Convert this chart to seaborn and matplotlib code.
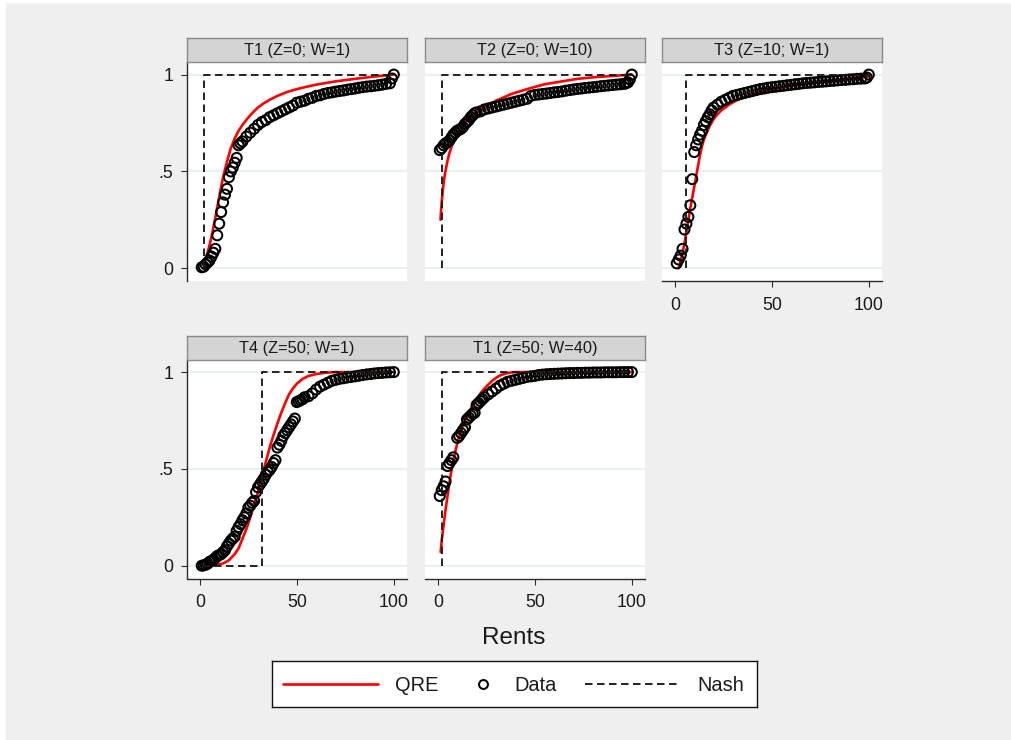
import matplotlib
matplotlib.use("Agg")
import matplotlib.pyplot as plt
import seaborn as sns
from matplotlib.patches import Rectangle

# ---------------------------------------------------------------
# Panel titles
titles = ["T1 (Z=0; W=1)", "T2 (Z=0; W=10)", "T3 (Z=10; W=1)",
          "T4 (Z=50; W=1)", "T1 (Z=50; W=40)"]

# Empirical CDF of rents (Data)
t1_x = [1, 2, 3, 4, 5, 6, 7, 8, 9, 10, 11, 12, 13, 14, 15, 16, 17, 18, 19, 20,
        21, 22, 24, 26, 28, 30, 32, 34, 36, 38, 40, 42, 44, 46, 48, 50, 52, 54,
        56, 58, 60, 62, 64, 66, 68, 70, 72, 74, 76, 78, 80, 82, 84, 86, 88, 90,
        92, 94, 96, 98, 99, 100]
t1_y = [0.005, 0.008, 0.02, 0.03, 0.04, 0.06, 0.08, 0.10, 0.17, 0.23, 0.29, 0.34,
        0.38, 0.41, 0.47, 0.50, 0.52, 0.545, 0.57, 0.635, 0.645, 0.655, 0.68, 0.70,
        0.72, 0.74, 0.755, 0.765, 0.78, 0.79, 0.80, 0.81, 0.82, 0.83, 0.84, 0.855,
        0.86, 0.865, 0.875, 0.88, 0.89, 0.893, 0.90, 0.905, 0.908, 0.912, 0.915,
        0.918, 0.922, 0.925, 0.928, 0.932, 0.935, 0.938, 0.94, 0.942, 0.945, 0.948,
        0.952, 0.955, 0.98, 1.0]

t2_x = [1, 2, 3, 4, 5, 6, 7, 8, 9, 10, 11, 12, 13, 14, 15, 16, 17, 18, 19, 20,
        22, 24, 26, 28, 30, 32, 34, 36, 38, 40, 42, 44, 46, 48, 50, 52, 54, 56,
        58, 60, 62, 64, 66, 68, 70, 72, 74, 76, 78, 80, 82, 84, 86, 88, 90, 92,
        94, 96, 97, 98, 99, 100]
t2_y = [0.61, 0.62, 0.635, 0.645, 0.65, 0.66, 0.675, 0.69, 0.70, 0.71, 0.715, 0.72,
        0.73, 0.745, 0.755, 0.765, 0.78, 0.79, 0.80, 0.805, 0.81, 0.82, 0.825, 0.83,
        0.835, 0.84, 0.845, 0.85, 0.855, 0.86, 0.865, 0.87, 0.875, 0.89, 0.895,
        0.897, 0.90, 0.902, 0.905, 0.908, 0.91, 0.913, 0.917, 0.92, 0.923, 0.926,
        0.928, 0.931, 0.933, 0.935, 0.937, 0.94, 0.942, 0.944, 0.946, 0.948, 0.95,
        0.952, 0.955, 0.96, 0.975, 1.0]

t3_x = [1, 2, 3, 4, 5, 6, 7, 8, 9, 10, 11, 12, 13, 14, 15, 16, 17, 18, 19, 20,
        22, 24, 26, 28, 30, 32, 34, 36, 38, 40, 42, 44, 46, 48, 50, 52, 54, 56,
        58, 60, 62, 64, 66, 68, 70, 72, 74, 76, 78, 80, 82, 84, 86, 88, 90, 92,
        94, 96, 98, 99, 100]
t3_y = [0.025, 0.045, 0.065, 0.10, 0.20, 0.23, 0.265, 0.325, 0.46, 0.60, 0.635,
        0.665, 0.69, 0.71, 0.74, 0.76, 0.78, 0.795, 0.815, 0.83, 0.845, 0.86, 0.87,
        0.88, 0.89, 0.895, 0.90, 0.905, 0.91, 0.915, 0.92, 0.925, 0.928, 0.932,
        0.935, 0.937, 0.94, 0.942, 0.945, 0.947, 0.95, 0.952, 0.955, 0.957, 0.958,
        0.96, 0.962, 0.963, 0.965, 0.967, 0.968, 0.97, 0.972, 0.973, 0.975, 0.976,
        0.978, 0.979, 0.98, 0.985, 1.0]

t4_x = [1, 2, 3, 4, 5, 6, 7, 8, 9, 10, 11, 12, 13, 14, 15, 16, 17, 18, 19, 20,
        21, 22, 23, 24, 25, 26, 27, 28, 29, 30, 31, 32, 33, 34, 35, 36, 37, 38, 39,
        40, 41, 42, 43, 44, 45, 46, 47, 48, 49, 50, 51, 52, 53, 54, 56, 58, 60, 62,
        64, 66, 68, 70, 72, 74, 76, 78, 80, 82, 84, 86, 88, 90, 92, 94, 96, 98, 100]
t4_y = [0.0, 0.002, 0.005, 0.01, 0.02, 0.025, 0.03, 0.04, 0.05, 0.055, 0.06, 0.07,
        0.08, 0.10, 0.115, 0.13, 0.14, 0.15, 0.18, 0.20, 0.215, 0.235, 0.25, 0.27,
        0.30, 0.31, 0.325, 0.335, 0.38, 0.405, 0.42, 0.435, 0.45, 0.47, 0.485, 0.495,
        0.51, 0.53, 0.545, 0.61, 0.625, 0.645, 0.67, 0.685, 0.70, 0.715, 0.73, 0.745,
        0.76, 0.845, 0.85, 0.855, 0.86, 0.87, 0.875, 0.89, 0.91, 0.925, 0.935, 0.945,
        0.955, 0.96, 0.965, 0.968, 0.972, 0.975, 0.978, 0.981, 0.985, 0.988, 0.99,
        0.993, 0.995, 0.996, 0.998, 0.999, 1.0]

t5_x = [1, 2, 3, 4, 5, 6, 7, 8, 10, 11, 12, 13, 14, 15, 16, 17, 18, 19, 20, 21,
        22, 23, 24, 26, 28, 30, 32, 34, 36, 38, 40, 42, 44, 46, 48, 50, 52, 54, 56,
        58, 60, 62, 64, 66, 68, 70, 72, 74, 76, 78, 80, 82, 84, 86, 88, 90, 92, 94,
        96, 98, 100]
t5_y = [0.36, 0.39, 0.41, 0.435, 0.515, 0.53, 0.545, 0.56, 0.66, 0.67, 0.685, 0.70,
        0.715, 0.755, 0.765, 0.775, 0.785, 0.79, 0.83, 0.84, 0.85, 0.86, 0.87, 0.885,
        0.90, 0.915, 0.93, 0.94, 0.95, 0.955, 0.96, 0.965, 0.97, 0.975, 0.978, 0.98,
        0.985, 0.987, 0.989, 0.99, 0.991, 0.992, 0.993, 0.994, 0.995, 0.995, 0.996,
        0.996, 0.997, 0.997, 0.998, 0.998, 0.998, 0.999, 0.999, 0.999, 0.999, 1.0,
        1.0, 1.0, 1.0]

# QRE predicted CDFs
q1_x = [2, 3, 4, 5, 6, 7, 8, 9, 10, 11, 12, 13, 14, 15, 16, 18, 20, 22, 24, 26,
        28, 30, 33, 36, 40, 45, 50, 55, 60, 70, 80, 90, 100]
q1_y = [0.02, 0.05, 0.08, 0.12, 0.16, 0.21, 0.26, 0.315, 0.37, 0.42, 0.47, 0.51,
        0.55, 0.585, 0.62, 0.67, 0.71, 0.74, 0.766, 0.79, 0.811, 0.83, 0.852, 0.87,
        0.89, 0.91, 0.925, 0.937, 0.948, 0.965, 0.978, 0.99, 1.0]

q2_x = [1.4, 1.7, 2, 2.5, 3, 3.5, 4, 5, 6, 7, 8, 10, 12, 14, 17, 21, 25, 30, 38,
        46, 55, 64, 72, 80, 90, 100]
q2_y = [0.25, 0.30, 0.34, 0.395, 0.44, 0.475, 0.505, 0.555, 0.595, 0.625, 0.65,
        0.695, 0.73, 0.755, 0.785, 0.81, 0.835, 0.865, 0.90, 0.925, 0.95, 0.965,
        0.978, 0.986, 0.993, 1.0]

q3_x = [2, 3, 4, 5, 6, 7, 8, 9, 10, 11, 12, 13, 14, 15, 16, 18, 20, 22, 24, 26,
        28, 30, 34, 38, 42, 50, 60, 70, 80, 90, 100]
q3_y = [0.0, 0.04, 0.08, 0.13, 0.19, 0.25, 0.31, 0.365, 0.42, 0.475, 0.53, 0.585,
        0.63, 0.665, 0.69, 0.735, 0.77, 0.795, 0.815, 0.83, 0.845, 0.857, 0.877,
        0.892, 0.905, 0.925, 0.942, 0.955, 0.967, 0.98, 0.99]

q4_x = [1, 5, 9, 12, 15, 18, 20, 22, 24, 26, 28, 30, 32, 34, 36, 38, 40, 42, 44,
        46, 48, 50, 53, 56, 60, 65, 70, 80, 90, 100]
q4_y = [0.0, 0.002, 0.005, 0.012, 0.028, 0.06, 0.09, 0.14, 0.19, 0.25, 0.315, 0.38,
        0.46, 0.535, 0.61, 0.675, 0.735, 0.79, 0.84, 0.885, 0.915, 0.94, 0.965,
        0.98, 0.99, 0.997, 1.0, 1.0, 1.0, 1.0]

q5_x = [1.5, 2, 3, 4, 5, 6, 7, 8, 9, 10, 11, 12, 13, 14, 16, 18, 20, 22, 24, 26,
        28, 30, 32, 34, 36, 38, 40, 45, 50, 100]
q5_y = [0.07, 0.13, 0.21, 0.29, 0.36, 0.43, 0.49, 0.54, 0.59, 0.63, 0.665, 0.695,
        0.725, 0.75, 0.79, 0.83, 0.86, 0.89, 0.915, 0.935, 0.955, 0.97, 0.982, 0.99,
        0.995, 0.998, 1.0, 1.0, 1.0, 1.0]

# Nash equilibrium CDFs (step functions)
n1_x, n1_y = [2, 2, 100], [0, 1, 1]
n2_x, n2_y = [2, 2, 100], [0, 1, 1]
n3_x, n3_y = [6, 6, 100], [0, 1, 1]
n4_x, n4_y = [1, 32, 32, 100], [0, 0, 1, 1]
n5_x, n5_y = [2, 2, 100], [0, 1, 1]

x_ticks = [0, 50, 100]
x_tick_labels = ["0", "50", "100"]
y_ticks = [0, 0.5, 1]
y_tick_labels = ["0", ".5", "1"]

# ---------------------------------------------------------------
sns.set_theme(style="white")
plt.rcParams["font.family"] = ["Liberation Sans", "DejaVu Sans"]

W, H = 1011, 740
BG = "#EFEFEF"
fig = plt.figure(figsize=(W / 100, H / 100), dpi=100, facecolor=BG)
# thin white margin along the top and left edges
fig.patches.append(Rectangle((0, 1 - 3 / H), 1, 3 / H, transform=fig.transFigure,
                             facecolor="white", edgecolor="none", zorder=-5))
fig.patches.append(Rectangle((0, 0), 6 / W, 1, transform=fig.transFigure,
                             facecolor="white", edgecolor="none", zorder=-5))


def px_rect(left, top, width, height):
    return [left / W, 1 - (top + height) / H, width / W, height / H]


col_left = [187, 425, 662]
row_top = [62, 359.5]
strip_h = 24
panel_w, panel_h = 220, 219

panels = [
    dict(title=titles[0], dx=t1_x, dy=t1_y, qx=q1_x, qy=q1_y, nx=n1_x, ny=n1_y,
         col=0, row=0, left=True, bottom=False),
    dict(title=titles[1], dx=t2_x, dy=t2_y, qx=q2_x, qy=q2_y, nx=n2_x, ny=n2_y,
         col=1, row=0, left=False, bottom=False),
    dict(title=titles[2], dx=t3_x, dy=t3_y, qx=q3_x, qy=q3_y, nx=n3_x, ny=n3_y,
         col=2, row=0, left=False, bottom=True),
    dict(title=titles[3], dx=t4_x, dy=t4_y, qx=q4_x, qy=q4_y, nx=n4_x, ny=n4_y,
         col=0, row=1, left=True, bottom=True),
    dict(title=titles[4], dx=t5_x, dy=t5_y, qx=q5_x, qy=q5_y, nx=n5_x, ny=n5_y,
         col=1, row=1, left=False, bottom=True),
]

AXIS_COLOR = "#2b2b2b"
TEXT_COLOR = "#1a1a1a"
DASHES = (4.0, 2.4)

for p in panels:
    left = col_left[p["col"]]
    top = row_top[p["row"]]
    ax = fig.add_axes(px_rect(left, top, panel_w, panel_h))
    ax.set_facecolor("white")

    sns.lineplot(x=p["qx"], y=p["qy"], ax=ax, color="#FF0000", lw=1.9,
                 estimator=None, sort=False, zorder=2)
    sns.scatterplot(x=p["dx"], y=p["dy"], ax=ax, marker="o", s=52,
                    color="black", edgecolor="black", linewidth=1.45, zorder=3)
    ax.collections[-1].set_facecolor("none")
    sns.lineplot(x=p["nx"], y=p["ny"], ax=ax, color=TEXT_COLOR, lw=1.35,
                 estimator=None, sort=False, dashes=False, zorder=4)
    ax.lines[-1].set_dashes(DASHES)

    ax.set_xlim(-6.6, 106.8)
    ax.set_ylim(-0.066, 1.065)
    ax.set_xticks(x_ticks)
    ax.set_xticklabels(x_tick_labels)
    ax.set_yticks(y_ticks)
    ax.set_yticklabels(y_tick_labels)
    ax.set_xlabel("")
    ax.set_ylabel("")
    ax.grid(axis="y", color="#E6EFF1", lw=1.3, zorder=0)
    ax.grid(axis="x", visible=False)
    ax.set_axisbelow(True)

    for side in ["top", "right"]:
        ax.spines[side].set_visible(False)
    ax.spines["left"].set_visible(p["left"])
    ax.spines["bottom"].set_visible(p["bottom"])
    for side in ["left", "bottom"]:
        ax.spines[side].set_color(AXIS_COLOR)
        ax.spines[side].set_linewidth(1.0)

    ax.tick_params(axis="y", left=p["left"], labelleft=p["left"], direction="out",
                   length=4.3, width=0.8, color=AXIS_COLOR, pad=5.5,
                   labelsize=12.8, labelcolor=TEXT_COLOR)
    ax.tick_params(axis="x", bottom=p["bottom"], labelbottom=p["bottom"],
                   direction="out", length=4.3, width=0.8, color=AXIS_COLOR,
                   pad=7, labelsize=12.8, labelcolor=TEXT_COLOR)

    # strip header
    sax = fig.add_axes(px_rect(left, top - strip_h, panel_w, strip_h))
    sax.set_facecolor("#D4D4D4")
    sax.set_xticks([])
    sax.set_yticks([])
    for s in sax.spines.values():
        s.set_visible(True)
        s.set_color("#8A8A8A")
        s.set_linewidth(1.0)
    sax.text(0.5, 0.47, p["title"], ha="center", va="center", fontsize=11.8,
             color=TEXT_COLOR, transform=sax.transAxes)

# common x-axis title
fig.text(514 / W, 1 - 638 / H, "Rents", ha="center", va="center",
         fontsize=17.5, color=TEXT_COLOR)

# legend box
lax = fig.add_axes(px_rect(272.3, 660.7, 484.4, 46.6))
lax.set_facecolor("white")
lax.set_xlim(0, 1)
lax.set_ylim(0, 1)
lax.set_xticks([])
lax.set_yticks([])
for s in lax.spines.values():
    s.set_visible(True)
    s.set_color("#111111")
    s.set_linewidth(1.0)
lax.plot([0.0215, 0.219], [0.5, 0.5], color="#FF0000", lw=1.9)
lax.text(0.253, 0.47, "QRE", ha="left", va="center", fontsize=14.4, color=TEXT_COLOR)
lax.plot([0.434], [0.5], marker="o", ms=6.4, mfc="none", mec="black", mew=1.45)
lax.text(0.50, 0.47, "Data", ha="left", va="center", fontsize=14.4, color=TEXT_COLOR)
lax.plot([0.645, 0.84], [0.5, 0.5], color=TEXT_COLOR, lw=1.35, dashes=DASHES)
lax.text(0.878, 0.47, "Nash", ha="left", va="center", fontsize=14.4, color=TEXT_COLOR)

fig.savefig("out.png", dpi=100, facecolor=fig.get_facecolor())
